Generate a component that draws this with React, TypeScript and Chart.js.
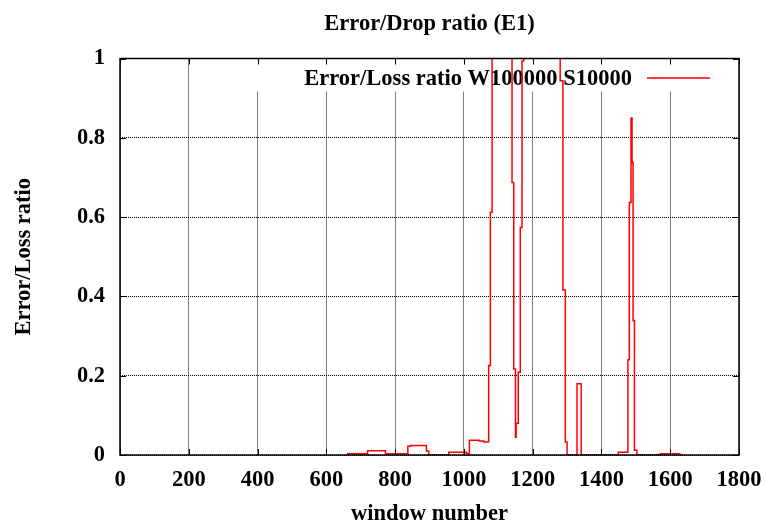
import React, { useEffect, useRef } from "react";
import { Chart, registerables } from "chart.js";

Chart.register(...registerables);

const chartTitle = "Error/Drop ratio (E1)";
const seriesLabel = "Error/Loss ratio W100000 S10000";
const xAxisTitle = "window number";
const yAxisTitle = "Error/Loss ratio";

const windowNumbers = [
  660, 720, 772, 837, 845, 891, 898, 956, 1008, 1016, 1045, 1058, 1072, 1077, 1082,
  1140, 1145, 1150, 1152, 1158, 1164, 1169, 1174, 1280, 1288, 1295, 1300, 1329, 1341,
  1449, 1477, 1481, 1486, 1489, 1492, 1496, 1503, 1571, 1630,
];
const errorLossRatios = [
  0.003, 0.011, 0.003, 0.022, 0.024, 0.01, 0.0, 0.007, 0.003, 0.037, 0.035, 0.033, 0.226, 0.612, 1.3,
  0.687, 0.217, 0.045, 0.08, 0.209, 0.574, 0.994, 1.3, 0.944, 0.416, 0.033, 0.0, 0.18, 0.0,
  0.007, 0.24, 0.637, 0.85, 0.738, 0.339, 0.012, 0.0, 0.003, 0.003,
];

const xTicks = [0, 200, 400, 600, 800, 1000, 1200, 1400, 1600, 1800];
const yTicks = [0, 0.2, 0.4, 0.6, 0.8, 1];

const FONT_FAMILY = "'Liberation Serif', 'Times New Roman', serif";
const font22 = { family: FONT_FAMILY, size: 22.5, weight: "bold" as const, lineHeight: 1.2 };

const framePlugin = {
  id: "gnuplotFrame",
  beforeDatasetsDraw(chart: any) {
    const { ctx, chartArea: a } = chart;
    ctx.save();
    // key area (grid is not drawn behind the key)
    ctx.fillStyle = "#ffffff";
    ctx.fillRect(a.left + 110, a.top + 1, a.right - a.left - 111, 32);
    // key text
    ctx.font = `bold 22.5px ${FONT_FAMILY}`;
    ctx.fillStyle = "#000";
    ctx.textAlign = "right";
    ctx.textBaseline = "middle";
    ctx.fillText(seriesLabel, a.right - 107, a.top + 21);
    // key sample line
    ctx.strokeStyle = "#ff0000";
    ctx.lineWidth = 1.5;
    ctx.beginPath();
    ctx.moveTo(a.right - 92, a.top + 19.5);
    ctx.lineTo(a.right - 29, a.top + 19.5);
    ctx.stroke();
    ctx.restore();
  },
  afterDraw(chart: any) {
    const { ctx, chartArea: a, scales } = chart;
    ctx.save();
    ctx.strokeStyle = "#000";
    ctx.lineWidth = 1;
    ctx.beginPath();
    for (const v of xTicks) {
      const px = Math.round(scales.x.getPixelForValue(v)) + 0.5;
      ctx.moveTo(px, a.bottom);
      ctx.lineTo(px, a.bottom - 6);
      ctx.moveTo(px, a.top);
      ctx.lineTo(px, a.top + 6);
    }
    for (const v of yTicks) {
      const py = Math.round(scales.y.getPixelForValue(v)) + 0.5;
      ctx.moveTo(a.left, py);
      ctx.lineTo(a.left + 6, py);
      ctx.moveTo(a.right, py);
      ctx.lineTo(a.right - 6, py);
    }
    ctx.stroke();
    ctx.lineWidth = 1.5;
    ctx.strokeRect(a.left, a.top, a.right - a.left, a.bottom - a.top);
    ctx.restore();
  },
};

export default function App() {
  const canvasRef = useRef<HTMLCanvasElement | null>(null);

  useEffect(() => {
    if (!canvasRef.current) return;
    const chart = new Chart(canvasRef.current, {
      type: "line",
      data: {
        datasets: [
          {
            label: seriesLabel,
            data: windowNumbers.map((x, i) => ({ x, y: errorLossRatios[i] })),
            borderColor: "#ff0000",
            backgroundColor: "#ff0000",
            borderWidth: 1.5,
            pointRadius: 0,
            stepped: "before",
            fill: false,
            tension: 0,
          },
        ],
      },
      options: {
        animation: false,
        responsive: false,
        devicePixelRatio: 1,
        layout: { padding: { top: 0, right: 28, bottom: 0, left: 0 } },
        plugins: {
          legend: { display: false },
          tooltip: { enabled: false },
          title: {
            display: true,
            text: chartTitle,
            fullSize: false,
            color: "#000",
            font: font22,
            padding: { top: 11, bottom: 20.5 },
          },
        },
        scales: {
          x: {
            type: "linear",
            min: 0,
            max: 1800,
            afterFit: (s: any) => {
              s.height = 73;
              s.paddingLeft = 0;
              s.paddingRight = 0;
            },
            ticks: {
              stepSize: 200,
              autoSkip: false,
              maxRotation: 0,
              padding: 12,
              color: "#000",
              font: font22,
              callback: (v: any) => String(v),
            },
            grid: { color: "#000", lineWidth: 1, drawTicks: false },
            border: { display: false, dash: [1, 1] },
            title: {
              display: true,
              text: xAxisTitle,
              color: "#000",
              font: font22,
              padding: { top: 0, bottom: 0 },
            },
          },
          y: {
            type: "linear",
            min: 0,
            max: 1,
            afterFit: (s: any) => {
              s.width = 120;
              s.paddingTop = 0;
              s.paddingBottom = 0;
            },
            ticks: {
              stepSize: 0.2,
              padding: 15,
              color: "#000",
              font: font22,
              callback: (v: any) => String(Math.round(Number(v) * 10) / 10),
            },
            grid: { color: "#000", lineWidth: 1, drawTicks: false },
            border: { display: false, dash: [1, 1] },
            title: {
              display: true,
              text: yAxisTitle,
              color: "#000",
              font: font22,
              padding: { top: 11, bottom: 0 },
            },
          },
        },
      },
      plugins: [framePlugin],
    } as any);
    return () => chart.destroy();
  }, []);

  return (
    <div style={{ position: "absolute", left: 0, top: 0, width: 767, height: 528, background: "#fff" }}>
      <canvas ref={canvasRef} width={767} height={528} />
    </div>
  );
}
